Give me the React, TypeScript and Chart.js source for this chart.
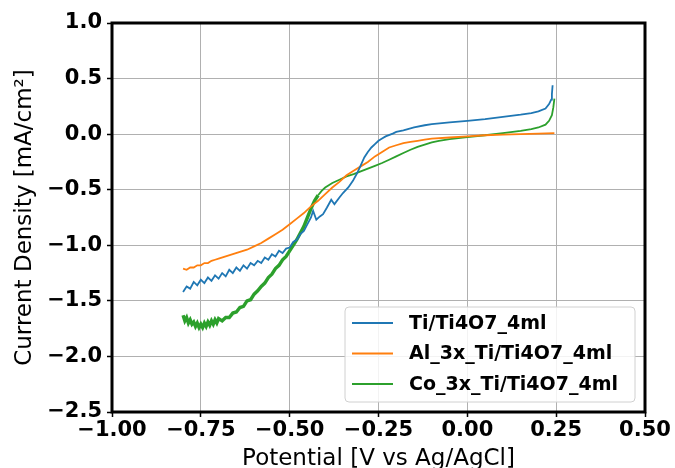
import React, { useEffect, useRef } from "react";
import { Chart, registerables } from "chart.js";

Chart.register(...registerables);

const seriesLabels = ["Ti/Ti4O7_4ml", "Al_3x_Ti/Ti4O7_4ml", "Co_3x_Ti/Ti4O7_4ml"];
const seriesColors = ["#1f77b4", "#ff7f0e", "#2ca02c"];

const xTicks = [-1.0, -0.75, -0.5, -0.25, 0.0, 0.25, 0.5];
const yTicks = [1.0, 0.5, 0.0, -0.5, -1.0, -1.5, -2.0, -2.5];

const tiPotential = [
  -0.8, -0.79, -0.78, -0.77, -0.76, -0.75, -0.74, -0.73, -0.72, -0.71, -0.7,
  -0.69, -0.68, -0.67, -0.66, -0.65, -0.64, -0.63, -0.62, -0.61, -0.6,
  -0.59, -0.58, -0.57, -0.56, -0.55, -0.54, -0.53, -0.52, -0.51, -0.5,
  -0.49, -0.48, -0.47, -0.46, -0.45, -0.44, -0.434, -0.425, -0.415, -0.406,
  -0.395, -0.383, -0.374, -0.36, -0.35, -0.335, -0.322, -0.31, -0.3, -0.29,
  -0.28, -0.27, -0.26, -0.25, -0.24, -0.23, -0.21, -0.2, -0.18, -0.15,
  -0.12, -0.1, -0.05, 0.0, 0.05, 0.1, 0.15, 0.18, 0.2, 0.22, 0.23, 0.236,
  0.238, 0.24,
];
const tiCurrent = [
  -1.42, -1.37, -1.39, -1.33, -1.36, -1.31, -1.34, -1.29, -1.32, -1.27, -1.3,
  -1.25, -1.28, -1.22, -1.25, -1.2, -1.23, -1.18, -1.21, -1.16, -1.18,
  -1.14, -1.16, -1.11, -1.13, -1.08, -1.1, -1.05, -1.07, -1.03, -1.02,
  -0.97, -0.95, -0.9, -0.87, -0.81, -0.75, -0.69, -0.77, -0.74, -0.72,
  -0.66, -0.59, -0.63, -0.57, -0.53, -0.48, -0.42, -0.35, -0.28, -0.21,
  -0.16, -0.12, -0.09, -0.06, -0.04, -0.02, 0.005, 0.02, 0.035, 0.06,
  0.08, 0.09, 0.105, 0.12, 0.135, 0.155, 0.175, 0.19, 0.205, 0.23, 0.27, 0.31,
  0.36, 0.44,
];

const alPotential = [
  -0.8, -0.79, -0.78, -0.77, -0.76, -0.75, -0.74, -0.73, -0.72, -0.71, -0.7,
  -0.68, -0.66, -0.64, -0.62, -0.6, -0.58, -0.56, -0.54, -0.52, -0.5,
  -0.48, -0.46, -0.44, -0.42, -0.4, -0.38, -0.36, -0.34, -0.32, -0.3,
  -0.28, -0.26, -0.24, -0.22, -0.2, -0.18, -0.16, -0.14, -0.12, -0.1,
  -0.05, 0.0, 0.05, 0.1, 0.15, 0.2, 0.245,
];
const alCurrent = [
  -1.21, -1.22, -1.2, -1.2, -1.18, -1.18, -1.16, -1.16, -1.14, -1.13, -1.12,
  -1.1, -1.08, -1.06, -1.04, -1.01, -0.98, -0.94, -0.9, -0.86, -0.81,
  -0.76, -0.71, -0.65, -0.6, -0.54, -0.48, -0.43, -0.37, -0.33, -0.29,
  -0.25, -0.2, -0.16, -0.12, -0.1, -0.08, -0.07, -0.06, -0.05, -0.04,
  -0.03, -0.02, -0.01, -0.005, 0.0, 0.005, 0.01,
];

const coPotential = [
  -0.8, -0.795, -0.79, -0.785, -0.78, -0.775, -0.77, -0.765, -0.76, -0.755,
  -0.75, -0.745, -0.74, -0.735, -0.73, -0.725, -0.72, -0.715, -0.71, -0.705,
  -0.7, -0.69, -0.68, -0.67, -0.66, -0.65, -0.64, -0.63, -0.62, -0.61, -0.6,
  -0.59, -0.58, -0.57, -0.56, -0.55, -0.54, -0.53, -0.52, -0.51, -0.5,
  -0.49, -0.48, -0.47, -0.46, -0.45, -0.44, -0.43, -0.42, -0.41, -0.4,
  -0.39, -0.38, -0.36, -0.34, -0.32, -0.3, -0.28, -0.26, -0.24, -0.22,
  -0.2, -0.18, -0.16, -0.14, -0.12, -0.1, -0.08, -0.05, 0.0, 0.05, 0.1,
  0.15, 0.18, 0.2, 0.22, 0.23, 0.238, 0.242, 0.245,
];
const coCurrent = [
  -1.63, -1.68, -1.65, -1.7, -1.67, -1.71, -1.69, -1.73, -1.7, -1.74,
  -1.71, -1.74, -1.7, -1.73, -1.69, -1.72, -1.68, -1.71, -1.67, -1.7,
  -1.66, -1.68, -1.65, -1.65, -1.61, -1.6, -1.56, -1.55, -1.5, -1.49, -1.44,
  -1.41, -1.37, -1.34, -1.29, -1.26, -1.21, -1.18, -1.13, -1.1, -1.05,
  -1.0, -0.95, -0.89, -0.83, -0.75, -0.67, -0.6, -0.55, -0.51, -0.48,
  -0.46, -0.44, -0.41, -0.38, -0.36, -0.335, -0.31, -0.285, -0.26, -0.23,
  -0.2, -0.17, -0.14, -0.115, -0.095, -0.075, -0.06, -0.045, -0.026, -0.01, 0.01,
  0.03, 0.045, 0.06, 0.085, 0.12, 0.17, 0.24, 0.32,
];

const FONT = "'DejaVu Sans', sans-serif";

function fmt(v: number, digits: number) {
  const s = Math.abs(v).toFixed(digits);
  return (v < -1e-9 ? "\u2212" : "") + s;
}

const framePlugin = {
  id: "frame",
  afterDatasetsDraw(chart: any) {
    const { ctx, chartArea } = chart;
    ctx.save();
    ctx.strokeStyle = "#000";
    ctx.lineWidth = 3;
    ctx.strokeRect(chartArea.left, chartArea.top, chartArea.right - chartArea.left, chartArea.bottom - chartArea.top);
    ctx.restore();
  },
};

const legendPlugin = {
  id: "boxLegend",
  afterDraw(chart: any) {
    const { ctx, chartArea } = chart;
    ctx.save();
    const w = 290;
    const h = 95;
    const x0 = chartArea.right - 10 - w;
    const y0 = chartArea.bottom - 10 - h;
    ctx.beginPath();
    ctx.roundRect(x0, y0, w, h, 4);
    ctx.fillStyle = "rgba(255,255,255,0.85)";
    ctx.fill();
    ctx.strokeStyle = "#d0d0d0";
    ctx.lineWidth = 1;
    ctx.stroke();
    ctx.font = "bold 19px " + FONT;
    ctx.textBaseline = "middle";
    chart.data.datasets.forEach((ds: any, i: number) => {
      const y = y0 + 16 + i * 30.5;
      ctx.strokeStyle = ds.borderColor;
      ctx.lineWidth = 2;
      ctx.beginPath();
      ctx.moveTo(x0 + 7, y);
      ctx.lineTo(x0 + 48, y);
      ctx.stroke();
      ctx.fillStyle = "#000";
      ctx.fillText(ds.label, x0 + 64, y + 1);
    });
    ctx.restore();
  },
};

export default function App() {
  const ref = useRef<HTMLCanvasElement | null>(null);
  useEffect(() => {
    if (!ref.current) return;
    const xs = [tiPotential, alPotential, coPotential];
    const ys = [tiCurrent, alCurrent, coCurrent];
    const chart = new Chart(ref.current, {
      type: "line",
      data: {
        datasets: seriesLabels.map((label, k) => ({
          label,
          data: xs[k].map((x, i) => ({ x, y: ys[k][i] })),
          borderColor: seriesColors[k],
          backgroundColor: seriesColors[k],
          borderWidth: 1.8,
          pointRadius: 0,
          tension: 0,
          fill: false,
          segment:
            k === 2
              ? { borderWidth: (c: any) => (c.p0.parsed.x < -0.42 ? 3.4 : 1.8) }
              : undefined,
        })),
      },
      options: {
        animation: false,
        responsive: false,
        devicePixelRatio: 1,
        layout: { padding: { left: 0, top: 23, right: 30, bottom: 0 } },
        plugins: { legend: { display: false }, tooltip: { enabled: false } },
        scales: {
          x: {
            type: "linear",
            min: -1.0,
            max: 0.5,
            afterFit: (s: any) => {
              s.height = 56;
            },
            afterBuildTicks: (s: any) => {
              s.ticks = xTicks.map((v) => ({ value: v }));
            },
            ticks: {
              color: "#000",
              font: { family: FONT, size: 21, weight: "bold", lineHeight: 1.2 },
              padding: 1,
              maxRotation: 0,
              autoSkip: false,
              callback: (v: any) => fmt(Number(v), 2),
            },
            grid: {
              color: "#b0b0b0",
              lineWidth: 1,
              tickColor: "#000",
              tickLength: 5,
              tickWidth: 1.5,
            },
            border: { display: false },
            title: {
              display: true,
              text: "Potential [V vs Ag/AgCl]",
              color: "#000",
              font: { family: FONT, size: 23, weight: "normal", lineHeight: 0.75 },
              padding: { top: 0, bottom: 0 },
            },
          },
          y: {
            type: "linear",
            min: -2.5,
            max: 1.0,
            afterFit: (s: any) => {
              s.width = 112;
            },
            afterBuildTicks: (s: any) => {
              s.ticks = yTicks.map((v) => ({ value: v }));
            },
            ticks: {
              color: "#000",
              font: { family: FONT, size: 21, weight: "bold" },
              padding: 5,
              autoSkip: false,
              callback: (v: any) => fmt(Number(v), 1),
            },
            grid: {
              color: "#b0b0b0",
              lineWidth: 1,
              tickColor: "#000",
              tickLength: 5,
              tickWidth: 1.5,
            },
            border: { display: false },
            title: {
              display: true,
              text: "Current Density [mA/cm\u00b2]",
              color: "#000",
              font: { family: FONT, size: 23, weight: "normal", lineHeight: 1 },
              padding: { top: 14, bottom: 0 },
            },
          },
        },
      },
      plugins: [framePlugin, legendPlugin],
    });
    return () => chart.destroy();
  }, []);
  return (
    <div style={{ position: "absolute", left: 0, top: 0, width: 675, height: 468 }}>
      <canvas ref={ref} width={675} height={468} style={{ width: 675, height: 468 }} />
    </div>
  );
}
